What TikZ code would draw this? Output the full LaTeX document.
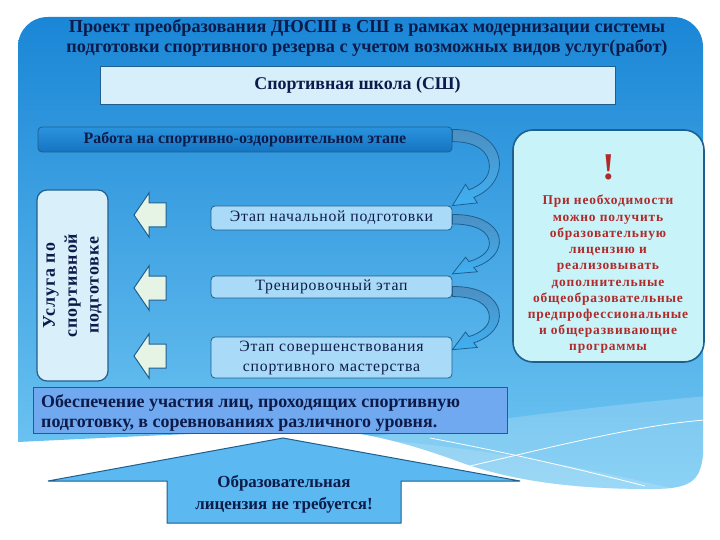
\documentclass[tikz,border=0pt]{standalone}
\usepackage{fontspec}
\setmainfont{Liberation Serif}
\newfontfamily\wideserif[LetterSpace=5]{Liberation Serif}
\newfontfamily\notefont[LetterSpace=6]{Liberation Serif}
\definecolor{panelTop}{HTML}{1A86D6}
\definecolor{panelBot}{HTML}{72C8F3}
\definecolor{navy}{HTML}{0D1B4A}
\definecolor{edge}{HTML}{1F5F8F}
\definecolor{schoolfill}{HTML}{D6EFFB}
\definecolor{stagefill}{HTML}{A9DAF7}
\definecolor{servfill}{HTML}{D9EFFA}
\definecolor{notefill}{HTML}{C8F3F8}
\definecolor{notered}{HTML}{B02A2A}
\definecolor{partfill}{HTML}{70A9F0}
\definecolor{upfill}{HTML}{5BB8F0}
\definecolor{larrowfill}{HTML}{E6F4E6}
\definecolor{curvetop}{HTML}{4C8FC2}
\definecolor{curvebot}{HTML}{3FB0F2}
\definecolor{worktop}{HTML}{2A93DD}
\definecolor{workbot}{HTML}{1574C2}
\begin{document}
\begin{tikzpicture}[x=1bp,y=-1bp,
  every node/.style={inner sep=0pt, text=navy},
  schoolbox/.style={draw=edge, line width=0.8bp, fill=schoolfill, minimum width=515bp, minimum height=38bp, font=\bfseries\fontsize{18}{20}\selectfont},
  workbox/.style={draw=edge, line width=0.8bp, rounded corners=4bp, top color=worktop, bottom color=workbot, minimum width=414bp, minimum height=25bp, font=\bfseries\fontsize{16}{18}\selectfont},
  stagebox/.style={draw=edge, line width=0.8bp, rounded corners=4bp, fill=stagefill, minimum width=241bp, align=center, font=\wideserif\fontsize{15.8}{20}\selectfont},
  servbox/.style={draw=edge, line width=1.2bp, rounded corners=10bp, fill=servfill, minimum width=71bp, minimum height=191bp},
  notebox/.style={draw=edge, line width=1.6bp, rounded corners=20bp, fill=notefill, minimum width=191bp, minimum height=232bp},
  partbox/.style={draw=edge, line width=0.8bp, fill=partfill, minimum width=474bp, minimum height=46bp},
  larrow/.style={draw=edge, line width=1bp, fill=larrowfill},
  uparrow/.style={draw=edge, line width=1bp, fill=upfill},
  curvearrow/.style={draw=edge, line width=0.8bp, top color=curvetop, bottom color=curvebot},
]
\useasboundingbox (0,0) rectangle (720,540);
\fill[white] (0,0) rectangle (720,540);
\def\panelpath{(18,442) -- (18,47) .. controls (18,30) and (31,17) .. (48,17) -- (673,17) .. controls (690,17) and (703,30) .. (703,47) -- (703,455) .. controls (700,482) and (690,489) .. (650,489) .. controls (590,489) and (520,484) .. (460,462) .. controls (400,440) and (350,428) .. (300,430) .. controls (200,433) and (100,438) .. (18,442) -- cycle}
\shade[top color=panelTop, bottom color=panelBot] \panelpath;
\begin{scope}
  \clip \panelpath;
  \fill[white, opacity=0.18] (280,450) .. controls (450,425) and (600,405) .. (720,395) -- (720,540) -- (280,540) -- cycle;
  \fill[white, opacity=0.15] (380,440) .. controls (500,450) and (600,470) .. (720,500) -- (720,540) -- (380,540) -- cycle;
  \draw[white, line width=0.8bp] (430,438) .. controls (520,455) and (590,472) .. (645,486);
  \draw[white, line width=0.8bp] (470,466) .. controls (560,445) and (640,425) .. (705,420);
\end{scope}

% title
\node[align=center, font=\bfseries\fontsize{18.3}{20}\selectfont] (title) at (367,38)
  {Проект преобразования ДЮСШ в СШ в рамках модернизации системы\\подготовки спортивного резерва с учетом возможных видов услуг(работ)};

\node[schoolbox] (school) at (357.5,85) {Спортивная школа (СШ)};

\node[workbox] (work) at (245,139.5) {Работа на спортивно-оздоровительном этапе};

\node[stagebox, minimum height=24bp] (stage1) at (331.5,218) {Этап начальной подготовки};
\node[stagebox, minimum height=22bp] (stage2) at (331.5,287) {Тренировочный этап};
\node[stagebox, minimum height=41bp] (stage3) at (331.5,357.5) {Этап совершенствования\\спортивного мастерства};

\node[servbox] (serv) at (72.5,285.5) {};
\node[rotate=90, align=center, font=\bfseries\wideserif\fontsize{18}{22}\selectfont] (servtext) at (serv.center) {Услуга по\\спортивной\\подготовке};

% left block arrows
\foreach \c in {215,288,356}{
  \draw[larrow] (134,\c) -- (149,\c-22) -- (149,\c-12) -- (166,\c-12) -- (166,\c+12) -- (149,\c+12) -- (149,\c+22) -- cycle;
}

% curved arrows
\def\curveshape{(0,0) .. controls (32,-1) and (48,18) .. (47,36) .. controls (46,52) and (34,63) .. (21.4,67.8) -- (24.9,73.3) -- (0,76) -- (13.1,54.7) -- (16.6,60.2) .. controls (28,56) and (37,48) .. (37,37) .. controls (37,22) and (24,12) .. (0,12) -- cycle}
\begin{scope}[shift={([yshift=-3bp]work.north east)}]
  \path[curvearrow] \curveshape;
\end{scope}
\begin{scope}[shift={([yshift=-9bp]stage1.north east)}, yscale=0.78]
  \path[curvearrow] \curveshape;
\end{scope}
\begin{scope}[shift={([yshift=-11bp]stage2.north east)}, yscale=0.83]
  \path[curvearrow] \curveshape;
\end{scope}

% note box
\node[notebox] (note) at (608.5,246) {};
\node[text=notered, font=\bfseries\fontsize{38}{38}\selectfont] (excl) at (609,167) {!};
\node[text=notered, align=center, font=\bfseries\notefont\fontsize{13.5}{16.3}\selectfont, anchor=north] (notetext) at (608,195)
  {При необходимости\\можно получить\\образовательную\\лицензию и\\реализовывать\\дополнительные\\общеобразовательные\\предпрофессиональные\\и общеразвивающие\\программы};

% participation box
\node[partbox] (part) at (270,410) {};
\node[anchor=west, align=left, font=\bfseries\fontsize{18}{20}\selectfont] (parttext) at (41,413)
  {Обеспечение участия лиц, проходящих спортивную\\подготовку, в соревнованиях различного уровня.};

% up arrow
\draw[uparrow] (283,438) -- (520,481) -- (401,481) -- (401,523) -- (167,523) -- (167,481) -- (48,481) -- cycle;
\node[align=center, font=\bfseries\fontsize{17}{22}\selectfont] (uptext) at (284,494) {Образовательная\\лицензия не требуется!};
\end{tikzpicture}
\end{document}
